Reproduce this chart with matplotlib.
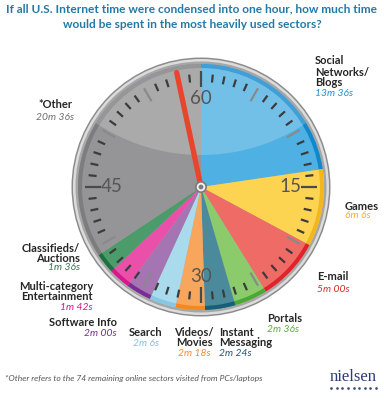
import matplotlib.pyplot as plt
import numpy as np
from matplotlib.patches import Circle

plt.rcParams['font.family'] = ['Lato', 'DejaVu Sans']

# Sectors clockwise from 12 o'clock
sectors = [['Social', 'Networks/', 'Blogs'], ['Games'], ['E-mail'], ['Portals'],
           ['Instant', 'Messaging'], ['Videos/', 'Movies'], ['Search'], ['Software Info'],
           ['Multi-category', 'Entertainment'], ['Classifieds/', 'Auctions'], ['*Other']]
minutes = [13.6, 6.1, 5.0, 2.6, 2.4, 2.3, 2.1, 2.0, 1.7, 1.6, 20.6]
times = ['13m 36s', '6m 6s', '5m 00s', '2m 36s', '2m 24s', '2m 18s', '2m 6s',
         '2m 00s', '1m 42s', '1m 36s', '20m 36s']
face_colors = ['#4fb1e3', '#fdd451', '#ef6b66', '#8ccb6c', '#4b8a9b', '#f8a65c',
               '#a9dbec', '#a474b3', '#ea4fa9', '#4c9c6b', '#959597']
rim_colors = ['#1188cc', '#f3b71c', '#e0222a', '#4aa833', '#14607a', '#f28a1e',
              '#86c7e3', '#7a2d92', '#d8168d', '#1e7040', '#7d7d7f']
time_colors = ['#1f8fcf', '#f0b121', '#d92b2f', '#57b034', '#1d5672', '#f08b22',
               '#7fc2df', '#73308f', '#d4148a', '#2d7b4b', '#6e6e6e']
hand_minute = 58

H = 400
cx, cy = 201, H - 187
R_face = 123

fig = plt.figure(figsize=(3.84, 4.0), dpi=100)
ax = fig.add_axes([0, 0, 1, 1])

# bezel
ax.add_patch(Circle((cx, cy), 129.5, fc='#8c8c8c', ec='none', zorder=1))
ax.add_patch(Circle((cx, cy), 128, fc='#dcdcdc', ec='none', zorder=1))
ax.add_patch(Circle((cx, cy), 125.5, fc='#a6a6a6', ec='none', zorder=1))

# clock face sectors + coloured rim
ax.pie(minutes, colors=face_colors, startangle=90, counterclock=False,
       radius=R_face, center=(cx, cy), wedgeprops=dict(linewidth=0, zorder=2))
ax.pie(minutes, colors=rim_colors, startangle=90, counterclock=False,
       radius=R_face, center=(cx, cy), wedgeprops=dict(width=4, linewidth=0, zorder=2))

# gloss on the upper part
clip = Circle((cx, cy), R_face, transform=ax.transData)
gloss = Circle((cx, H + 34), 189, fc='white', ec='none', alpha=0.2, zorder=3)
ax.add_patch(gloss)
gloss.set_clip_path(clip)

# minute ticks
for m in range(60):
    a = np.deg2rad(90 - 6 * m)
    if m % 15 == 0:
        r0, r1, col, lw = 100, 116, '#4a4a4a', 1.6
    elif m % 5 == 0:
        r0, r1, col, lw = 99, 114, '#8a8a8a', 1.6
    else:
        r0, r1, col, lw = 105, 113, '#3c3c3c', 1.6
    ax.plot([cx + r0 * np.cos(a), cx + r1 * np.cos(a)],
            [cy + r0 * np.sin(a), cy + r1 * np.sin(a)],
            color=col, lw=lw, solid_capstyle='butt', zorder=4)

for m, lbl in [(0, '60'), (15, '15'), (30, '30'), (45, '45')]:
    a = np.deg2rad(90 - 6 * m)
    ax.text(cx + 89 * np.cos(a), cy + 89 * np.sin(a), lbl, fontsize=13.5,
            color='#555555', ha='center', va='center', zorder=4)

# hand
a = np.deg2rad(90 - 6 * hand_minute)
ax.plot([cx, cx + 117 * np.cos(a)], [cy, cy + 117 * np.sin(a)],
        color='#e8452c', lw=3.8, solid_capstyle='round', zorder=5)
ax.add_patch(Circle((cx, cy), 6, fc='#7a7a7a', ec='none', zorder=6))
ax.add_patch(Circle((cx, cy), 4.3, fc='#f2f2f2', ec='none', zorder=6))
ax.add_patch(Circle((cx, cy), 2.4, fc='#7a7a7a', ec='none', zorder=6))

# title
title_lines = ['If all U.S. Internet time were condensed into one hour, how much time',
               'would be spent in the most heavily used sectors?']
for i, line in enumerate(title_lines):
    ax.text(192, H - 9 - 15 * i, line, fontsize=8.55, fontweight='bold',
            color='#2479a6', ha='center', va='center')

# sector labels: (x, centre y of first line, line pitch, ha)
label_pos = [(315, 61, 11, 'left'), (345, 206, 10, 'left'), (317, 277, 12, 'left'),
             (267, 318, 12, 'left'), (219, 332, 11, 'left'), (194, 332, 11, 'center'),
             (146, 332, 11, 'center'), (117, 323, 10, 'right'), (93, 287, 10, 'right'),
             (80, 248, 10, 'right'), (55, 105, 12, 'center')]
for name, t, col, (x, y, dy, ha) in zip(sectors, times, time_colors, label_pos):
    for i, line in enumerate(name):
        ax.text(x, H - y - dy * i, line, fontsize=8, fontweight='bold',
                color='#262626', ha=ha, va='center')
    ax.text(x, H - y - dy * len(name), t, fontsize=7.4, style='italic',
            color=col, ha=ha, va='center')

# footnote and logo
ax.text(5, H - 379, '*Other refers to the 74 remaining online sectors visited from PCs/laptops',
        fontsize=6.1, style='italic', color='#555555', ha='left', va='center')
ax.text(353, H - 377, 'nielsen', fontsize=12, family='Liberation Serif', color='#2c3c6e',
        ha='center', va='center')
ax.plot(np.linspace(331, 376, 9), [H - 388] * 9, ls='none', marker='o', ms=0.9,
        color='#3a4a7a')

ax.set_xlim(0, 384)
ax.set_ylim(0, H)
ax.set_aspect('equal')
ax.axis('off')
fig.savefig('out.png', dpi=100, facecolor='white')
